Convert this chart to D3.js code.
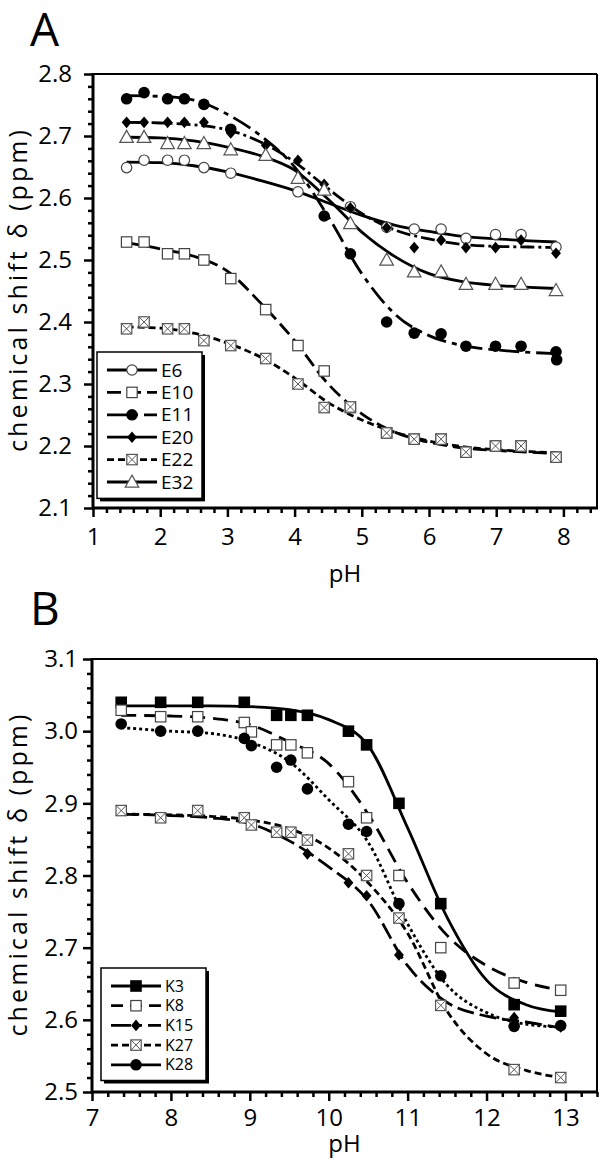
<!DOCTYPE html>
<html>
<head>
<meta charset="utf-8">
<script src="https://cdn.jsdelivr.net/npm/d3@7"></script>
<style>
  body { margin: 0; background: #fff; }
  svg { display: block; }
  text { font-family: "Open Sans", sans-serif; }
</style>
</head>
<body>
<div id="fig"></div>
<script>
// ---- Panel A : Glu residues ----
const phA = [1.5, 1.76, 2.11, 2.36, 2.65, 3.05, 3.57, 4.05, 4.44, 4.83, 5.37, 5.78, 6.18, 6.55, 6.99, 7.37, 7.89, 7.9];
const E6  = [2.649, 2.661, 2.661, 2.661, 2.649, 2.64, null, 2.61, null, 2.586, 2.553, 2.55, 2.55, 2.535, 2.541, 2.541, 2.521, null];
const E10 = [2.529, 2.529, 2.51, 2.51, 2.50, 2.47, 2.42, 2.362, 2.321, 2.262, 2.221, 2.211, 2.211, 2.19, 2.20, 2.20, 2.182, null];
const E11 = [2.76, 2.77, 2.76, 2.76, 2.751, 2.711, null, null, 2.571, 2.51, 2.40, 2.382, 2.381, 2.361, 2.361, 2.361, 2.352, 2.339];
const E20 = [2.722, 2.722, 2.722, 2.722, 2.722, 2.705, 2.685, 2.661, 2.622, 2.584, 2.552, 2.52, 2.532, 2.52, 2.52, 2.532, 2.511, null];
const E22 = [2.389, 2.40, 2.389, 2.389, 2.37, 2.362, 2.341, 2.30, 2.262, 2.263, 2.221, 2.211, 2.211, 2.19, 2.20, 2.20, 2.182, null];
const E32 = [2.698, 2.698, 2.688, 2.688, 2.688, 2.678, 2.669, 2.632, 2.613, 2.559, 2.50, 2.481, 2.481, 2.461, 2.461, 2.461, 2.451, null];

// fitted curves
const fitPhA = [1.5, 2, 2.5, 3, 3.5, 4, 4.5, 5, 5.5, 6, 6.5, 7, 7.5, 7.9];
const fitE6  = [2.658, 2.657, 2.652, 2.642, 2.628, 2.612, 2.592, 2.572, 2.556, 2.546, 2.538, 2.534, 2.531, 2.529];
const fitE10 = [2.528, 2.518, 2.506, 2.482, 2.43, 2.37, 2.30, 2.252, 2.222, 2.206, 2.197, 2.193, 2.19, 2.188];
const fitE11 = [2.765, 2.764, 2.758, 2.735, 2.70, 2.65, 2.57, 2.478, 2.412, 2.378, 2.362, 2.355, 2.351, 2.349];
const fitE20 = [2.722, 2.721, 2.718, 2.71, 2.69, 2.658, 2.615, 2.575, 2.548, 2.534, 2.525, 2.522, 2.521, 2.52];
const fitE22 = [2.392, 2.39, 2.382, 2.366, 2.343, 2.31, 2.27, 2.242, 2.222, 2.208, 2.199, 2.194, 2.191, 2.189];
const fitE32 = [2.698, 2.697, 2.692, 2.682, 2.668, 2.645, 2.598, 2.545, 2.505, 2.478, 2.465, 2.459, 2.456, 2.454];

const xTicksA = [1, 2, 3, 4, 5, 6, 7, 8];
const yTicksA = [2.1, 2.2, 2.3, 2.4, 2.5, 2.6, 2.7, 2.8];

// ---- Panel B : Lys residues ----
const phB = [7.37, 7.87, 8.34, 8.93, 9.02, 9.34, 9.52, 9.73, 10.25, 10.48, 10.89, 11.42, 12.35, 12.94];
const K3  = [3.04, 3.04, 3.04, 3.04, null, 3.022, 3.022, 3.022, 3.0, 2.981, 2.90, 2.761, 2.621, 2.612];
const K8  = [3.029, 3.02, 3.02, 3.012, 2.999, 2.981, 2.981, 2.97, 2.93, 2.88, 2.80, 2.70, 2.651, 2.641];
const K15 = [null, null, null, null, null, null, null, 2.83, 2.79, 2.772, 2.69, null, 2.603, 2.59];
const K27 = [2.89, 2.88, 2.89, 2.88, 2.87, 2.86, 2.86, 2.849, 2.83, 2.80, 2.741, 2.62, 2.531, 2.52];
const K28 = [3.01, 3.0, 3.0, 2.99, 2.98, 2.95, 2.96, 2.92, 2.871, 2.861, 2.761, 2.661, 2.591, 2.592];

const fitPhB = [7.37, 8, 8.5, 9, 9.5, 10, 10.5, 11, 11.5, 12, 12.5, 12.94];
const fitK3  = [3.035, 3.035, 3.035, 3.034, 3.03, 3.016, 2.98, 2.866, 2.742, 2.655, 2.621, 2.611];
const fitK8  = [3.022, 3.021, 3.018, 3.009, 2.985, 2.955, 2.885, 2.79, 2.717, 2.675, 2.652, 2.641];
const fitK15 = [2.885, 2.883, 2.88, 2.872, 2.848, 2.812, 2.765, 2.675, 2.624, 2.605, 2.597, 2.589];
const fitK27 = [2.885, 2.884, 2.882, 2.877, 2.865, 2.838, 2.79, 2.72, 2.612, 2.553, 2.53, 2.52];
const fitK28 = [3.005, 3.0, 2.997, 2.985, 2.958, 2.905, 2.846, 2.733, 2.648, 2.61, 2.594, 2.59];

const xTicksB = [7, 8, 9, 10, 11, 12, 13];
const yTicksB = [2.5, 2.6, 2.7, 2.8, 2.9, 3.0, 3.1];

// 系列のスタイル
const styleOf = {
    E6:  { marker: 'circleOpen',   dash: null,         legendDash: null },
    E10: { marker: 'squareOpen',   dash: '14,6',       legendDash: '14,6' },
    E11: { marker: 'circle',       dash: '20,6,5,6',   legendDash: '20,6,5,6' },
    E20: { marker: 'diamond',      dash: '14,4,3,4',   legendDash: null },
    E22: { marker: 'squareX',      dash: '7,4',        legendDash: '7,4' },
    E32: { marker: 'triangleOpen', dash: null,         legendDash: null },
    K3:  { marker: 'square',       dash: null,         legendDash: null },
    K8:  { marker: 'squareOpen',   dash: '15,8',       legendDash: '12,7' },
    K15: { marker: 'diamond',      dash: '17,6',       legendDash: '20,6,5,6' },
    K27: { marker: 'squareX',      dash: '7,4',        legendDash: '7,4' },
    K28: { marker: 'circle',       dash: '3,3',        legendDash: null }
};

const svg = d3.select('#fig').append('svg')
    .attr('width', 600)
    .attr('height', 1163);

function drawMarker(g, type, cx, cy, s) {
    if (type === 'circleOpen') {
        g.append('circle').attr('cx', cx).attr('cy', cy).attr('r', 5.2 * s)
            .attr('fill', '#fff').attr('stroke', '#444').attr('stroke-width', 1.2);
    } else if (type === 'circle') {
        g.append('circle').attr('cx', cx).attr('cy', cy).attr('r', 5.8 * s).attr('fill', '#000');
    } else if (type === 'square') {
        const h = 5.8 * s;
        g.append('rect').attr('x', cx - h).attr('y', cy - h).attr('width', 2 * h).attr('height', 2 * h).attr('fill', '#000');
    } else if (type === 'squareOpen') {
        const h = 5.2 * s;
        g.append('rect').attr('x', cx - h).attr('y', cy - h).attr('width', 2 * h).attr('height', 2 * h)
            .attr('fill', '#fff').attr('stroke', '#444').attr('stroke-width', 1.2);
    } else if (type === 'squareX') {
        const h = 5.2 * s;
        g.append('rect').attr('x', cx - h).attr('y', cy - h).attr('width', 2 * h).attr('height', 2 * h)
            .attr('fill', '#fff').attr('stroke', '#555').attr('stroke-width', 1.2);
        g.append('path').attr('d', `M${cx - h},${cy - h}L${cx + h},${cy + h}M${cx + h},${cy - h}L${cx - h},${cy + h}`)
            .attr('stroke', '#555').attr('stroke-width', 1);
    } else if (type === 'diamond') {
        const h = 5.8 * s;
        g.append('path').attr('d', `M${cx},${cy - h}L${cx + h * 0.85},${cy}L${cx},${cy + h}L${cx - h * 0.85},${cy}Z`)
            .attr('fill', '#000');
    } else if (type === 'triangleOpen') {
        const w = 6.8 * s, h = 11.5 * s;
        g.append('path').attr('d', `M${cx},${cy - h * 0.6}L${cx + w},${cy + h * 0.45}L${cx - w},${cy + h * 0.45}Z`)
            .attr('fill', '#fff').attr('stroke', '#555').attr('stroke-width', 1.2);
    }
}

function drawPanel(p) {
    const g = svg.append('g');
    const x = d3.scaleLinear().domain(p.xDomain).range([p.left, p.right]);
    const y = d3.scaleLinear().domain(p.yDomain).range([p.bottom, p.top]);

    // パネルラベル
    g.append('text').attr('x', 30).attr('y', p.labelY)
        .style('font-size', '46px').text(p.label);

    // 枠
    g.append('line').attr('x1', p.left).attr('x2', p.right).attr('y1', p.top).attr('y2', p.top)
        .attr('stroke', '#000').attr('stroke-width', 2);
    g.append('line').attr('x1', p.right).attr('x2', p.right).attr('y1', p.top).attr('y2', p.bottom)
        .attr('stroke', '#000').attr('stroke-width', 2);

    // 補助目盛り
    const xMinor = d3.range(p.xDomain[0], p.xDomain[1] + 0.001, 0.2).filter(v => Math.abs(v - Math.round(v)) > 0.01);
    const yMinor = d3.range(p.yDomain[0], p.yDomain[1] + 0.001, 0.02).filter(v => Math.abs(v * 10 - Math.round(v * 10)) > 0.01);

    const xAx = g.append('g').attr('transform', `translate(0,${p.bottom})`)
        .call(d3.axisBottom(x).tickValues(p.xTicks).tickSize(9).tickPadding(p.xPad).tickFormat(d3.format('d')));
    const xAxMinor = g.append('g').attr('transform', `translate(0,${p.bottom})`)
        .call(d3.axisBottom(x).tickValues(xMinor).tickSize(5).tickFormat(''));
    const yAx = g.append('g').attr('transform', `translate(${p.left},0)`)
        .call(d3.axisLeft(y).tickValues(p.yTicks).tickSize(9).tickPadding(p.yPad).tickFormat(d3.format('.1f')));
    const yAxMinor = g.append('g').attr('transform', `translate(${p.left},0)`)
        .call(d3.axisLeft(y).tickValues(yMinor).tickSize(5).tickFormat(''));

    [xAx, xAxMinor, yAx, yAxMinor].forEach(a => {
        a.select('.domain').remove();
        a.selectAll('line').attr('stroke', '#000').attr('stroke-width', 2.5);
        a.selectAll('text').attr('fill', '#000').style('font-size', '24px')
            .style('font-family', '"Open Sans", sans-serif');
    });

    // 軸線
    g.append('line').attr('x1', p.left).attr('x2', p.right + 1).attr('y1', p.bottom).attr('y2', p.bottom)
        .attr('stroke', '#000').attr('stroke-width', 3);
    g.append('line').attr('x1', p.left).attr('x2', p.left).attr('y1', p.top - 1).attr('y2', p.bottom + 1.5)
        .attr('stroke', '#000').attr('stroke-width', 3);

    // 軸タイトル
    g.append('text').attr('x', (p.left + p.right) / 2).attr('y', p.xTitleY)
        .attr('text-anchor', 'middle').style('font-size', '24px').text('pH');
    const yc = (p.top + p.bottom) / 2 + p.yTitleShift;
    g.append('text').attr('transform', `translate(27,${yc}) rotate(-90)`)
        .attr('text-anchor', 'middle').style('font-size', '25px')
        .attr('textLength', 322).attr('lengthAdjust', 'spacing')
        .text('chemical shift δ (ppm)');

    // フィット曲線
    const line = d3.line()
        .x(d => x(d[0]))
        .y(d => y(d[1]))
        .curve(d3.curveMonotoneX);

    p.series.forEach(s => {
        const st = styleOf[s.name];
        g.append('path')
            .datum(p.fitX.map((v, i) => [v, s.fit[i]]))
            .attr('fill', 'none')
            .attr('stroke', '#000')
            .attr('stroke-width', 2.8)
            .attr('stroke-dasharray', st.dash)
            .attr('d', line);
    });

    // データ点
    p.series.forEach(s => {
        const st = styleOf[s.name];
        const mg = g.append('g');
        p.pts.forEach((v, i) => {
            if (s.values[i] == null) return;
            drawMarker(mg, st.marker, x(v), y(s.values[i]), p.markerScale);
        });
    });

    // 凡例
    const lg = p.legend;
    const rows = p.series.length;
    const bh = lg.rowGap * rows + lg.padY;
    g.append('rect').attr('x', lg.x + 3).attr('y', lg.y + 3).attr('width', lg.w).attr('height', bh).attr('fill', '#000');
    g.append('rect').attr('x', lg.x).attr('y', lg.y).attr('width', lg.w).attr('height', bh)
        .attr('fill', '#fff').attr('stroke', '#000').attr('stroke-width', 1.5);
    p.series.forEach((s, i) => {
        const st = styleOf[s.name];
        const ry = lg.y + lg.first + i * lg.rowGap;
        g.append('line').attr('x1', lg.x + 10).attr('x2', lg.x + 60).attr('y1', ry).attr('y2', ry)
            .attr('stroke', '#000').attr('stroke-width', 2.8).attr('stroke-dasharray', st.legendDash);
        drawMarker(g, st.marker, lg.x + 35, ry, p.markerScale);
        g.append('text').attr('x', lg.x + 64).attr('y', ry).attr('dy', '0.35em')
            .style('font-size', lg.font + 'px').text(s.name);
    });
}

drawPanel({
    label: 'A', labelY: 46,
    left: 93, right: 597, top: 74, bottom: 508,
    xDomain: [1, 8.5], yDomain: [2.1, 2.8],
    xTicks: xTicksA, yTicks: yTicksA, xPad: 11, yPad: 12,
    xTitleY: 582, yTitleShift: 0,
    pts: phA, fitX: fitPhA, markerScale: 1,
    series: [
        { name: 'E6',  values: E6,  fit: fitE6 },
        { name: 'E10', values: E10, fit: fitE10 },
        { name: 'E11', values: E11, fit: fitE11 },
        { name: 'E20', values: E20, fit: fitE20 },
        { name: 'E22', values: E22, fit: fitE22 },
        { name: 'E32', values: E32, fit: fitE32 }
    ],
    legend: { x: 97, y: 352, w: 105, rowGap: 22.4, first: 18, padY: 12, font: 19 }
});

drawPanel({
    label: 'B', labelY: 625,
    left: 92, right: 597, top: 659, bottom: 1092,
    xDomain: [7, 13.4], yDomain: [2.5, 3.1],
    xTicks: xTicksB, yTicks: yTicksB, xPad: 8, yPad: 5,
    xTitleY: 1152, yTitleShift: 0,
    pts: phB, fitX: fitPhB, markerScale: 1,
    series: [
        { name: 'K3',  values: K3,  fit: fitK3 },
        { name: 'K8',  values: K8,  fit: fitK8 },
        { name: 'K15', values: K15, fit: fitK15 },
        { name: 'K27', values: K27, fit: fitK27 },
        { name: 'K28', values: K28, fit: fitK28 }
    ],
    legend: { x: 101, y: 968, w: 105, rowGap: 19.7, first: 18, padY: 14, font: 16 }
});
</script>
</body>
</html>
